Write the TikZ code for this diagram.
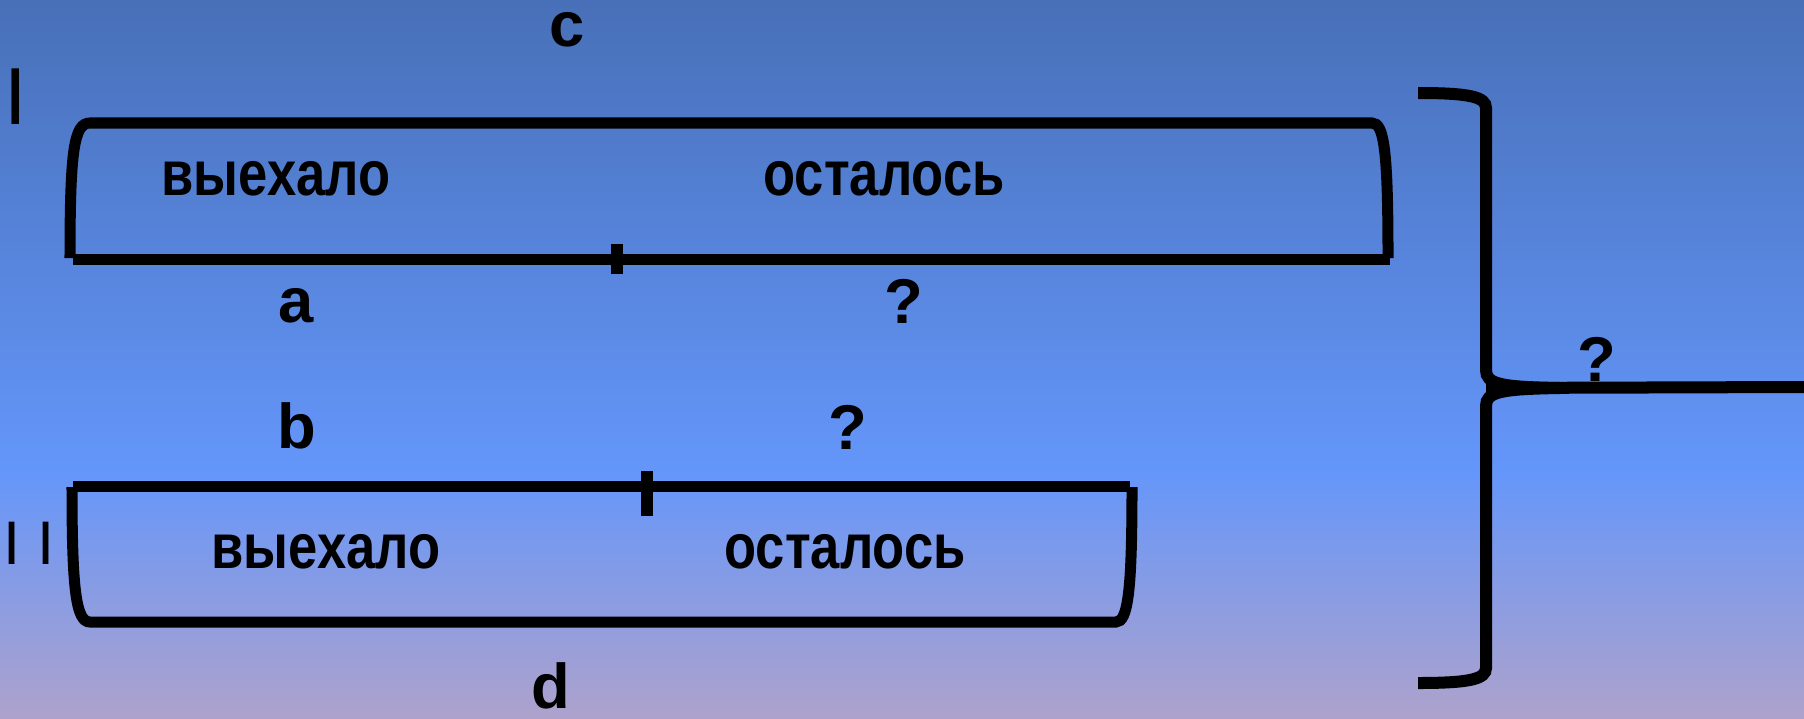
\documentclass[tikz,border=0pt]{standalone}
\usepackage{fontspec}
\setmainfont{Liberation Sans}
\usetikzlibrary{positioning}
\definecolor{bgtop}{HTML}{4870B8}
\definecolor{bgmid}{HTML}{6496FA}
\definecolor{bgbot}{HTML}{AEA2CC}
\newcommand{\narrow}[1]{\scalebox{0.83}[1]{#1}}
\tikzstyle{lbl}=[font=\fontsize{18}{20}\selectfont\bfseries, inner sep=0pt]
\tikzstyle{roman}=[inner sep=0pt]
\tikzstyle{bar}=[line width=0.11cm]
\tikzstyle{brc}=[line width=0.12cm]

\begin{document}
\begin{tikzpicture}[x=0.01cm,y=-0.01cm]

% background
\shade[top color=bgtop, bottom color=bgmid] (0,0) rectangle (1804,470);
\shade[top color=bgmid, bottom color=bgbot] (0,469) rectangle (1804,718);
\useasboundingbox (0,0) rectangle (1804,718);

% first row
\node[roman, font=\fontsize{23}{25}\selectfont] at (16,97) (one) {I};
\node[lbl] at (567,30) (c) {c};
\draw[bar] (70,258) .. controls (70,150) and (74,123) .. (90,123) -- (1372,123) .. controls (1384,123) and (1388,150) .. (1388,258);
\draw[bar] (73,259) -- (1390,259);
\draw[brc] (617,244) -- (617,274);
\node[lbl] at (276,179) (out1) {\narrow{выехало}};
\node[lbl] at (884,179) (left1) {\narrow{осталось}};
\node[lbl] at (296,306) (a) {a};
\node[lbl] at (904,301) (q1) {?};

% second row
\node[roman, font=\fontsize{17.5}{19}\selectfont] at (29,543) (two) {I I};
\node[lbl] at (297,426) (b) {b};
\node[lbl] at (848,427) (q2) {?};
\draw[bar] (73,486) -- (1130,486);
\draw[bar] (72,487) .. controls (72,590) and (76,622) .. (90,622) -- (1116,622) .. controls (1128,622) and (1132,590) .. (1132,487);
\draw[brc] (647,471) -- (647,516);
\node[lbl] at (326,552) (out2) {\narrow{выехало}};
\node[lbl] at (845,552) (left2) {\narrow{осталось}};
\node[lbl] at (551,686) (d) {d};

% brace and total
\coordinate (tip) at (1486,388);
\coordinate (edge) at (1804,387);
\draw[brc] (1418,93) .. controls (1470,93) and (1486,97) .. (1486,108) -- (1486,370) .. controls (1486,384) and (1500,387) .. (1560,388);
\draw[brc] (1560,388) .. controls (1500,389) and (1486,392) .. (1486,406) -- (1486,668) .. controls (1486,679) and (1470,683) .. (1418,683);
\draw[brc] (tip) -- (edge);
\node[lbl, anchor=south] at (1597,382) (q3) {?};

\end{tikzpicture}
\end{document}
